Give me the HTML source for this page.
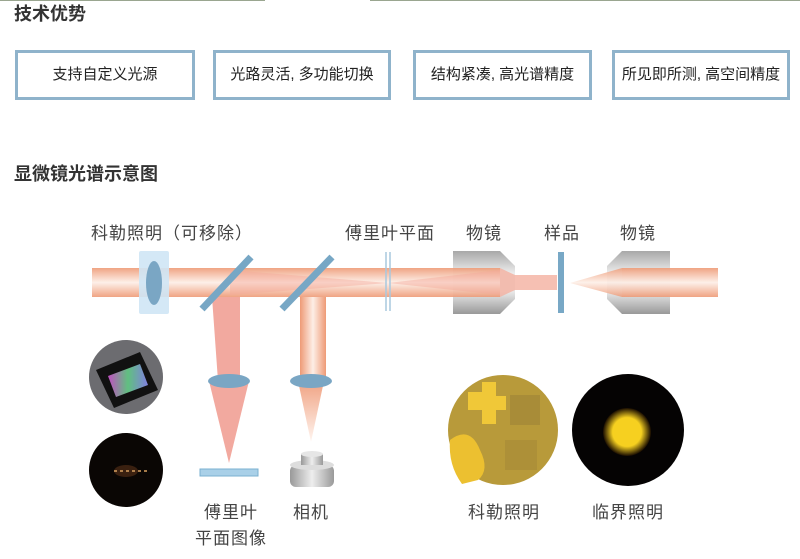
<!DOCTYPE html>
<html><head><meta charset="utf-8"><style>
html,body{margin:0;padding:0;background:#fff;}
body{width:800px;height:559px;position:relative;overflow:hidden;font-family:"Liberation Sans","Noto Sans CJK SC",sans-serif;color:#333;}
.t{position:absolute;white-space:nowrap;}
.box{position:absolute;top:50px;height:44px;border:3px solid #8fb3cb;text-align:center;line-height:44px;font-size:15px;color:#222;}
.h{font-weight:bold;font-size:18px;color:#333;}
.l{font-size:17px;color:#444;letter-spacing:1px;}
</style></head><body>
<div style="position:absolute;left:0;top:0;width:265px;height:1px;background:#9aa690"></div>
<div style="position:absolute;left:370px;top:0;width:430px;height:1px;background:#9aa690"></div>
<div class="t h" style="left:14px;top:0px;">技术优势</div>
<div class="box" style="left:15px;width:174px;">支持自定义光源</div>
<div class="box" style="left:213px;width:172px;">光路灵活, 多功能切换</div>
<div class="box" style="left:413px;width:173px;">结构紧凑, 高光谱精度</div>
<div class="box" style="left:612px;width:172px;">所见即所测, 高空间精度</div>
<div class="t h" style="left:14px;top:160px;">显微镜光谱示意图</div>
<div class="t l" style="left:91px;top:219px;">科勒照明（可移除）</div>
<div class="t l" style="left:345px;top:219px;">傅里叶平面</div>
<div class="t l" style="left:466px;top:219px;">物镜</div>
<div class="t l" style="left:544px;top:219px;">样品</div>
<div class="t l" style="left:620px;top:219px;">物镜</div>
<div class="t l" style="left:204px;top:498px;">傅里叶</div>
<div class="t l" style="left:195px;top:524px;">平面图像</div>
<div class="t l" style="left:293px;top:498px;">相机</div>
<div class="t l" style="left:468px;top:498px;">科勒照明</div>
<div class="t l" style="left:592px;top:498px;">临界照明</div>
<svg width="800" height="559" style="position:absolute;left:0;top:0">
<defs>
<linearGradient id="bh" x1="0" y1="0" x2="0" y2="1">
<stop offset="0" stop-color="#ee9a76"/><stop offset="0.5" stop-color="#fdeee6"/><stop offset="1" stop-color="#ee9a76"/></linearGradient>
<linearGradient id="bv" x1="0" y1="0" x2="1" y2="0">
<stop offset="0" stop-color="#ee9a76"/><stop offset="0.5" stop-color="#fdeee6"/><stop offset="1" stop-color="#ee9a76"/></linearGradient>
<linearGradient id="cv" x1="0" y1="0" x2="0" y2="1">
<stop offset="0" stop-color="#f0a282"/><stop offset="1" stop-color="#fff5f0"/></linearGradient>
<linearGradient id="obj" x1="0" y1="0" x2="0" y2="1">
<stop offset="0" stop-color="#a8a8a8"/><stop offset="0.35" stop-color="#ececec"/><stop offset="0.65" stop-color="#e8e8e8"/><stop offset="1" stop-color="#999"/></linearGradient>
<linearGradient id="cam" x1="0" y1="0" x2="1" y2="0">
<stop offset="0" stop-color="#999"/><stop offset="0.5" stop-color="#eee"/><stop offset="1" stop-color="#999"/></linearGradient>
<linearGradient id="gr" x1="0" y1="0" x2="1" y2="0">
<stop offset="0" stop-color="#c050c0"/><stop offset="0.5" stop-color="#60c080"/><stop offset="1" stop-color="#8080e0"/></linearGradient>
<radialGradient id="yel"><stop offset="0.6" stop-color="#f6d020"/><stop offset="1" stop-color="#1a0d00"/></radialGradient>
</defs>
<path d="M453 251 H500 L515 266 V299 L500 314 H453 Z" fill="url(#obj)"/>
<path d="M622 251 H670 V314 H622 L607 299 V266 Z" fill="url(#obj)"/>
<rect x="92" y="268" width="408" height="29" fill="url(#bh)" opacity="0.9"/>
<path d="M500 268 L515 275 H557 V290 H515 L500 297 Z" fill="#f4b0a0" opacity="0.8"/>
<rect x="622" y="268" width="96" height="29" fill="url(#bh)" opacity="0.9"/>
<path d="M570 283 L622 268 V297 Z" fill="url(#bh)" opacity="0.85"/>
<path d="M230 270 L388 283 L500 270 V295 L388 283 L230 295 Z" fill="#f3a898" opacity="0.45"/>
<path d="M212 297 H240 L240 381 H218 Z" fill="#f1a095" opacity="0.9"/>
<path d="M209 381 H249 L229 463 Z" fill="#f1a095" opacity="0.9"/>
<rect x="300" y="297" width="26" height="84" fill="url(#bv)"/>
<path d="M298 381 H324 L311 442 Z" fill="url(#cv)"/>
<rect x="139" y="251" width="30" height="63" rx="2" fill="#cfe5f5" opacity="0.9"/>
<ellipse cx="154" cy="283" rx="8" ry="22" fill="#7aa6c4"/>
<line x1="202" y1="309" x2="251" y2="257" stroke="#77a7c5" stroke-width="7"/>
<line x1="282" y1="309" x2="332" y2="257" stroke="#77a7c5" stroke-width="7"/>
<line x1="386" y1="252" x2="386" y2="311" stroke="#a8c8de" stroke-width="1.5"/>
<line x1="390" y1="252" x2="390" y2="311" stroke="#a8c8de" stroke-width="1.5"/>
<rect x="558" y="252" width="6" height="61" fill="#78a8c6"/>
<ellipse cx="229" cy="381" rx="21" ry="7" fill="#7aa6c4"/>
<ellipse cx="311" cy="381" rx="21" ry="7" fill="#7aa6c4"/>
<rect x="200" y="469" width="58" height="7" fill="#a9d0e8" stroke="#7ab0d0" stroke-width="1"/>
<rect x="290" y="465" width="44" height="22" rx="6" fill="url(#cam)"/>
<ellipse cx="312" cy="465" rx="22" ry="5" fill="#ddd"/>
<rect x="301" y="454" width="22" height="11" fill="url(#cam)"/>
<ellipse cx="312" cy="454" rx="11" ry="3" fill="#e6e6e6"/>
<circle cx="126" cy="377" r="37" fill="#6c6c70"/>
<path d="M96 370 L140 352 L158 390 L114 408 Z" fill="#111"/>
<path d="M108 376 L140 364 L148 385 L116 397 Z" fill="url(#gr)"/>
<circle cx="126" cy="470" r="37" fill="#0a0604"/>
<ellipse cx="126" cy="471" rx="12" ry="6" fill="#3a2010"/>
<line x1="114" y1="471" x2="148" y2="471" stroke="#d8a060" stroke-width="1.5" stroke-dasharray="3 3"/>
<circle cx="503" cy="430" r="55" fill="#b89a3a"/>
<path d="M468 392 h14 v-10 h14 v14 h10 v14 h-10 v14 h-14 v-14 h-14 Z" fill="#f0c838"/>
<path d="M450 440 Q470 425 480 450 Q490 470 478 480 L462 484 Q448 465 450 440Z" fill="#ecc030"/>
<rect x="510" y="395" width="30" height="30" fill="#a88c38"/>
<rect x="505" y="440" width="32" height="30" fill="#ad9038"/>
<circle cx="628" cy="430" r="56" fill="#050303"/>
<circle cx="627" cy="432" r="24" fill="url(#yel)"/>
</svg>
</body></html>
